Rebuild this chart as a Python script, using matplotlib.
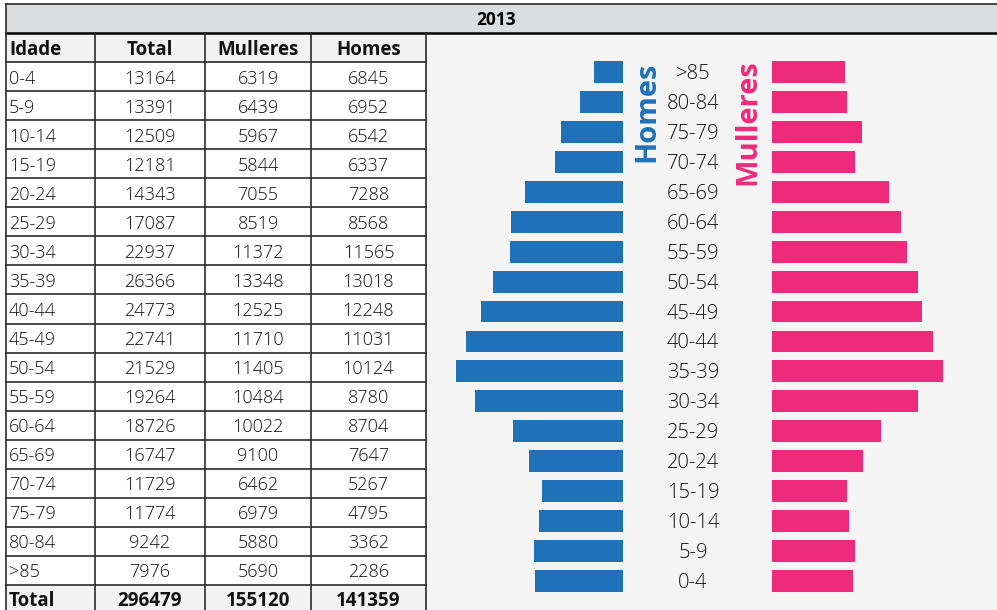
import matplotlib
matplotlib.use("Agg")
import matplotlib.pyplot as plt
import matplotlib.transforms as mtransforms
from matplotlib.patches import Rectangle

plt.rcParams['font.family'] = ['Open Sans', 'DejaVu Sans']

year = "2013"
columns = ["Idade", "Total", "Mulleres", "Homes"]
ages = ["0-4", "5-9", "10-14", "15-19", "20-24", "25-29", "30-34", "35-39", "40-44",
        "45-49", "50-54", "55-59", "60-64", "65-69", "70-74", "75-79", "80-84", ">85"]
total = [13164, 13391, 12509, 12181, 14343, 17087, 22937, 26366, 24773,
         22741, 21529, 19264, 18726, 16747, 11729, 11774, 9242, 7976]
mulleres = [6319, 6439, 5967, 5844, 7055, 8519, 11372, 13348, 12525,
            11710, 11405, 10484, 10022, 9100, 6462, 6979, 5880, 5690]
homes = [6845, 6952, 6542, 6337, 7288, 8568, 11565, 13018, 12248,
         11031, 10124, 8780, 8704, 7647, 5267, 4795, 3362, 2286]
totals_row = ["Total", "296479", "155120", "141359"]

# pyramid order: >85 at top ... 0-4 at bottom
pyr_labels = ages[::-1]
pyr_homes = homes[::-1]
pyr_mulleres = mulleres[::-1]

BLUE = "#1F71B8"
PINK = "#EE2A7B"
LINE = "#2b2b2b"

W, H = 997, 610
fig = plt.figure(figsize=(W / 100, H / 100), dpi=100)
fig.patch.set_facecolor("white")

bg = fig.add_axes([0, 0, 1, 1])
bg.set_xlim(0, W)
bg.set_ylim(H, 0)
bg.axis("off")

col_x = [6, 95, 205, 311, 426]
top_line = 4
hdr_bottom = 33
row_h = 29.05
n_rows = 1 + len(ages) + 1

# year header
bg.add_patch(Rectangle((6, top_line), W - 6, hdr_bottom - top_line, facecolor="#DCDDDF", edgecolor="none"))
bg.plot([6, W], [top_line, top_line], color=LINE, lw=1.2)
bg.plot([6, W], [hdr_bottom, hdr_bottom], color="black", lw=1.8)
bg.plot([6, 6], [top_line, hdr_bottom], color=LINE, lw=1.2)
bg.text(496, 20, year, ha="center", va="center", fontsize=12.5, fontweight="bold", color="black")

# pyramid area background
bg.add_patch(Rectangle((col_x[-1], hdr_bottom), W - col_x[-1], H - hdr_bottom, facecolor="#F4F4F4", edgecolor="none"))

# table
rows = [columns] + [[a, str(t), str(m), str(h)] for a, t, m, h in zip(ages, total, mulleres, homes)] + [totals_row]
for i, row in enumerate(rows):
    y0 = hdr_bottom + i * row_h
    shade = "#F2F2F2" if (i == 0 or i == n_rows - 1) else "white"
    bg.add_patch(Rectangle((col_x[0], y0), col_x[-1] - col_x[0], row_h, facecolor=shade, edgecolor="none"))
    bold = (i == 0 or i == n_rows - 1)
    fs = 13.5 if bold else 13
    fw = "bold" if bold else "light"
    yc = y0 + row_h / 2 + 2
    for j, val in enumerate(row):
        if j == 0:
            bg.text(col_x[0] + 3, yc, val, ha="left", va="center", fontsize=fs,
                    fontweight=fw, color="#111111")
        else:
            xc = (col_x[j] + col_x[j + 1]) / 2
            bg.text(xc, yc, val, ha="center", va="center", fontsize=fs,
                    fontweight=fw, color="#111111")
    if i > 0:
        bg.plot([col_x[0], col_x[-1]], [y0, y0], color=LINE, lw=1.2)
for x in col_x:
    bg.plot([x, x], [hdr_bottom, H], color=LINE, lw=1.2)

# pyramid axes (pixel-based placement)
scale = 0.01283  # px per person
xmax = 15000
span = xmax * scale
yc_top, yc_bot = 72, 581
step = (yc_bot - yc_top) / (len(ages) - 1)
ax_top = yc_top - step / 2
ax_bot = yc_bot + step / 2

def rect(x0, x1):
    return [x0 / W, 1 - ax_bot / H, (x1 - x0) / W, (ax_bot - ax_top) / H]

axL = fig.add_axes(rect(623 - span, 623))
axR = fig.add_axes(rect(772, 772 + span))
ypos = list(range(len(pyr_labels)))[::-1]  # >85 at top
bar_h = 0.73
axL.barh(ypos, pyr_homes, height=bar_h, color=BLUE)
axR.barh(ypos, pyr_mulleres, height=bar_h, color=PINK)
axL.set_xlim(xmax, 0)
axR.set_xlim(0, xmax)
for ax in (axL, axR):
    ax.set_ylim(-0.5, len(pyr_labels) - 0.5)
    ax.axis("off")
    ax.patch.set_alpha(0)

tr = mtransforms.blended_transform_factory(bg.transData, axL.transData)
off = mtransforms.ScaledTranslation(0, -2 / 100, fig.dpi_scale_trans)
for y, lab in zip(ypos, pyr_labels):
    fig.text(693, y, lab, transform=tr + off, ha="center", va="center", fontsize=14.5,
             fontweight="light", color="#111111")

bg.text(647, 112, "Homes", rotation=90, ha="center", va="center", fontsize=21,
        fontweight="bold", color=BLUE)
bg.text(748, 122, "Mulleres", rotation=90, ha="center", va="center", fontsize=21,
        fontweight="bold", color=PINK)

fig.savefig("out.png", dpi=100, facecolor=fig.get_facecolor())
